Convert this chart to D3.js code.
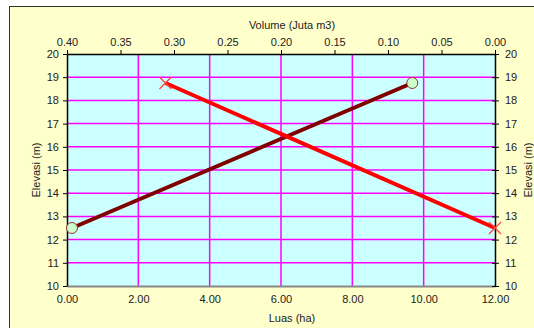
<!DOCTYPE html>
<html>
<head>
<meta charset="utf-8">
<script src="https://cdnjs.cloudflare.com/ajax/libs/d3/7.8.5/d3.min.js"></script>
<style>
  html, body { margin: 0; padding: 0; background: #fff; overflow: hidden; }
  text { font-family: "Liberation Sans", Arial, sans-serif; fill: #222; }
</style>
</head>
<body>
<div class="chart"></div>
<script>
;(function () {
  // data
  var luasX = [0.14, 9.68]          // ha
  var luasY = [12.5, 18.75]         // m
  var volumeX = [0.308, 0.0]        // juta m3
  var volumeY = [18.75, 12.5]       // m
  var luasTicks = [0, 2, 4, 6, 8, 10, 12]
  var volumeTicks = [0.40, 0.35, 0.30, 0.25, 0.20, 0.15, 0.10, 0.05, 0.00]
  var elevTicks = [10, 11, 12, 13, 14, 15, 16, 17, 18, 19, 20]

  var W = 534
  var H = 328
  var plot = { left: 67, right: 495, top: 54, bottom: 286 }

  var svg = d3.select('.chart').append('svg')
    .attr('width', W)
    .attr('height', H)

  // chart area
  svg.append('rect')
    .attr('x', 9.5).attr('y', 6.5)
    .attr('width', W).attr('height', H)
    .attr('fill', '#FFFFCC')
    .attr('stroke', '#333')
    .attr('stroke-width', 1)

  var x = d3.scaleLinear().domain([0, 12]).range([plot.left, plot.right])
  var xTop = d3.scaleLinear().domain([0.40, 0]).range([plot.left, plot.right])
  var y = d3.scaleLinear().domain([10, 20]).range([plot.bottom, plot.top])

  // plot area
  svg.append('rect')
    .attr('x', plot.left).attr('y', plot.top)
    .attr('width', plot.right - plot.left)
    .attr('height', plot.bottom - plot.top)
    .attr('fill', '#CCFFFF')

  // grid
  var grid = svg.append('g').attr('stroke', '#FF00FF').attr('stroke-width', 1.5)
  grid.selectAll('line.v').data(luasTicks.slice(1, -1)).enter().append('line')
    .attr('x1', function (d) { return x(d) }).attr('x2', function (d) { return x(d) })
    .attr('y1', plot.top).attr('y2', plot.bottom)
  grid.selectAll('line.h').data(elevTicks.slice(1, -1)).enter().append('line')
    .attr('x1', plot.left).attr('x2', plot.right)
    .attr('y1', function (d) { return y(d) }).attr('y2', function (d) { return y(d) })

  // axes
  var fmt2 = d3.format('.2f')
  var gBottom = svg.append('g').attr('transform', 'translate(0,' + plot.bottom + ')')
    .call(d3.axisBottom(x).tickValues(luasTicks).tickFormat(fmt2).tickSize(0).tickPadding(9))
  gBottom.select('.domain').attr('stroke', '#888').attr('stroke-width', 2)

  var gTop = svg.append('g').attr('transform', 'translate(0,' + plot.top + ')')
    .call(d3.axisTop(xTop).tickValues(volumeTicks).tickFormat(fmt2).tickSize(4).tickPadding(4).tickSizeOuter(0))

  var gLeft = svg.append('g').attr('transform', 'translate(' + plot.left + ',0)')
    .call(d3.axisLeft(y).tickValues(elevTicks).tickSize(4).tickPadding(4).tickSizeOuter(0))

  var gRight = svg.append('g').attr('transform', 'translate(' + plot.right + ',0)')
    .call(d3.axisRight(y).tickValues(elevTicks).tickSize(4).tickPadding(6).tickSizeOuter(0))
  gRight.selectAll('.tick line').attr('x1', -3)

  ;[gBottom, gTop, gLeft, gRight].forEach(function (g) {
    g.selectAll('text').style('font-size', '11px').attr('fill', '#222')
      .style('font-family', '"Liberation Sans", Arial, sans-serif')
  })
  ;[gTop, gLeft, gRight].forEach(function (g) {
    g.select('.domain').attr('stroke', '#000').attr('stroke-width', 1.5)
    g.selectAll('.tick line').attr('stroke', '#000')
  })

  // axis titles
  svg.append('text').attr('x', 292).attr('y', 29)
    .attr('text-anchor', 'middle').style('font-size', '11px').text('Volume (Juta m3)')
  svg.append('text').attr('x', 292).attr('y', 322)
    .attr('text-anchor', 'middle').style('font-size', '11px').text('Luas (ha)')
  svg.append('text').attr('transform', 'translate(40,170) rotate(-90)')
    .attr('text-anchor', 'middle').style('font-size', '11px').text('Elevasi (m)')
  svg.append('text').attr('transform', 'translate(532,170) rotate(-90)')
    .attr('text-anchor', 'middle').style('font-size', '11px').text('Elevasi (m)')

  // luas series
  var luas = luasX.map(function (d, i) { return [x(d), y(luasY[i])] })
  svg.append('path')
    .attr('d', d3.line()(luas))
    .attr('fill', 'none')
    .attr('stroke', '#800000')
    .attr('stroke-width', 4)
  svg.selectAll('circle.luas').data(luas).enter().append('circle')
    .attr('cx', function (d) { return d[0] })
    .attr('cy', function (d) { return d[1] })
    .attr('r', 5.5)
    .attr('fill', '#CCFFCC')
    .attr('stroke', '#993333')
    .attr('stroke-width', 1)

  // volume series
  var volume = volumeX.map(function (d, i) { return [xTop(d), y(volumeY[i])] })
  svg.append('path')
    .attr('d', d3.line()(volume))
    .attr('fill', 'none')
    .attr('stroke', '#FF0000')
    .attr('stroke-width', 4)
  var s = 6
  svg.selectAll('path.xmark').data(volume).enter().append('path')
    .attr('d', function (d) {
      return 'M' + (d[0] - s) + ',' + (d[1] - s) + 'L' + (d[0] + s) + ',' + (d[1] + s) +
        'M' + (d[0] - s) + ',' + (d[1] + s) + 'L' + (d[0] + s) + ',' + (d[1] - s)
    })
    .attr('stroke', '#FF4444')
    .attr('stroke-width', 1.3)
    .attr('fill', 'none')
})()
</script>
</body>
</html>
